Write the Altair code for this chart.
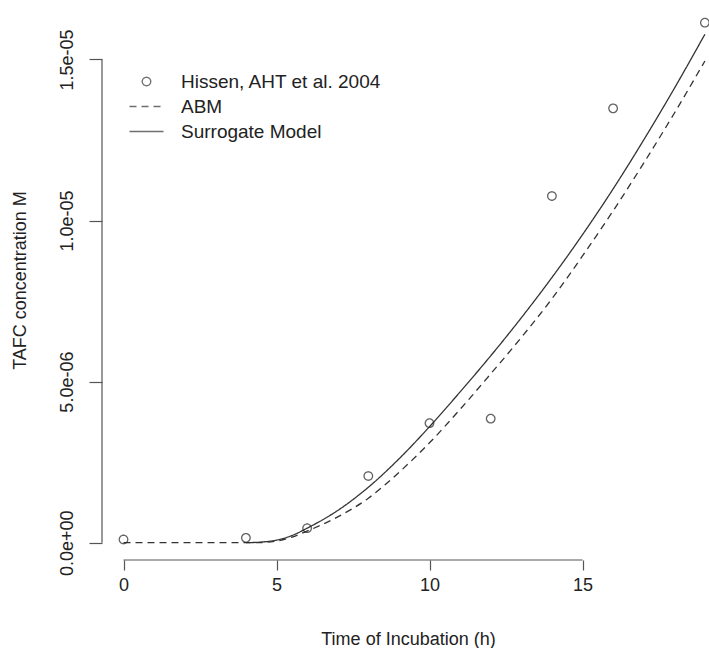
import altair as alt
import pandas as pd

# Observed data (Hissen, AHT et al. 2004)
obs_time = [0, 4, 6, 8, 10, 12, 14, 16, 19]
obs_conc = [1.0e-7, 1.5e-7, 4.5e-7, 2.07e-6, 3.71e-6, 3.85e-6, 1.076e-5, 1.348e-5, 1.614e-5]

# ABM (dashed)
abm_time = [0, 1, 2, 3, 4, 4.5, 5, 5.5, 6, 7, 8, 9, 10, 11, 12, 13, 14, 15, 16, 17, 18, 19]
abm_conc = [0, 0, 0, 0, 0, 0.005e-6, 0.05e-6, 0.17e-6, 0.36e-6, 0.8e-6, 1.38e-6, 2.18e-6,
            3.1e-6, 4.14e-6, 5.24e-6, 6.37e-6, 7.57e-6, 8.9e-6, 10.3e-6, 11.78e-6, 13.33e-6, 14.95e-6]

# Surrogate model (solid)
sur_time = [4, 4.5, 5, 5.5, 6, 7, 8, 9, 10, 11, 12, 13, 14, 15, 16, 17, 18, 19]
sur_conc = [0, 0.02e-6, 0.08e-6, 0.22e-6, 0.45e-6, 1.0e-6, 1.72e-6, 2.6e-6, 3.6e-6, 4.68e-6,
            5.8e-6, 6.98e-6, 8.23e-6, 9.56e-6, 10.98e-6, 12.5e-6, 14.1e-6, 15.78e-6]

series_names = ["Hissen, AHT et al. 2004", "ABM", "Surrogate Model"]
x_ticks = [0, 5, 10, 15]
y_ticks = [0, 5e-6, 1e-5, 1.5e-5]
y_tick_labels = ["0.0e+00", "5.0e-06", "1.0e-05", "1.5e-05"]

obs_df = pd.DataFrame({"time": obs_time, "conc": obs_conc, "series": series_names[0]})
line_df = pd.concat([
    pd.DataFrame({"time": abm_time, "conc": abm_conc, "series": series_names[1]}),
    pd.DataFrame({"time": sur_time, "conc": sur_conc, "series": series_names[2]}),
], ignore_index=True)
xaxis_df = pd.DataFrame({"x": [x_ticks[0]], "x2": [x_ticks[-1]]})
yaxis_df = pd.DataFrame({"y": [y_ticks[0]], "y2": [y_ticks[-1]]})

FONT = "Liberation Sans"
TXT = "#222222"
AX = "#555555"
W, H = 607, 560

xs = alt.Scale(domain=[-0.703, 19.134], nice=False, zero=False)
ys = alt.Scale(domain=[-5.37e-7, 1.6844e-5], nice=False, zero=False)

label_list = "[" + ",".join("'%s'" % s for s in y_tick_labels) + "]"

xaxis = alt.Axis(values=x_ticks, domain=False, grid=False, tickSize=10, tickColor=AX,
                 tickWidth=1.2, labelFontSize=18, labelFont=FONT, labelColor=TXT,
                 labelPadding=6, labelFlush=False, labelOverlap=False,
                 title="Time of Incubation (h)", titleFontSize=18, titleFont=FONT,
                 titleFontWeight="normal", titleColor=TXT, titleX=306, titleY=79,
                 titleAlign="center", titleBaseline="middle")
yaxis = alt.Axis(values=y_ticks, labelExpr=label_list + "[round(datum.value/5e-6)]",
                 domain=False, grid=False, tickSize=13, tickColor=AX, tickWidth=1.2,
                 labelFontSize=18, labelFont=FONT, labelColor=TXT, labelAngle=270,
                 labelAlign="center", labelBaseline="bottom", labelPadding=13,
                 labelFlush=False, labelOverlap=False,
                 title="TAFC concentration M", titleFontSize=18, titleFont=FONT,
                 titleFontWeight="normal", titleColor=TXT, titleAngle=270,
                 titleX=-82, titleY=280, titleAlign="center", titleBaseline="middle")

X = alt.X("time:Q", scale=xs, axis=xaxis)
Y = alt.Y("conc:Q", scale=ys, axis=yaxis)

circle_path = "M -0.5,0 A 0.5,0.5 0 1,1 0.5,0 A 0.5,0.5 0 1,1 -0.5,0 Z"
line_path = "M -2,0 L 2,0"

legend = alt.Legend(orient="none", legendX=35, legendY=72, title=None, padding=0,
                    symbolSize=289, symbolStrokeColor="#333333",
                    symbolStrokeWidth=1.3, labelFontSize=19, labelFont=FONT,
                    labelColor=TXT, labelOffset=25, rowPadding=5, labelLimit=400)
dash_scale = alt.Scale(domain=series_names, range=[[1, 0], [7, 5], [1, 0]])
shape_scale = alt.Scale(domain=series_names, range=[circle_path, line_path, line_path])

lines = alt.Chart(line_df).mark_line(color="#333333", strokeWidth=1.3, interpolate="monotone").encode(
    x=X, y=Y,
    strokeDash=alt.StrokeDash("series:N", scale=dash_scale, legend=legend),
)

points = alt.Chart(obs_df).mark_point(size=289, filled=False, color="#222222", strokeWidth=1.3).encode(
    x=X, y=Y,
    shape=alt.Shape("series:N", scale=shape_scale, legend=legend),
    strokeDash=alt.StrokeDash("series:N", scale=dash_scale, legend=legend),
)

xrule = alt.Chart(xaxis_df).mark_rule(color=AX, strokeWidth=1.2).encode(
    x=alt.X("x:Q", scale=xs, axis=xaxis), x2="x2:Q", y=alt.value(H))
yrule = alt.Chart(yaxis_df).mark_rule(color=AX, strokeWidth=1.2).encode(
    y=alt.Y("y:Q", scale=ys, axis=yaxis), y2="y2:Q", x=alt.value(0))

chart = alt.layer(xrule, yrule, lines, points).properties(
    width=W, height=H,
    autosize=alt.AutoSizeParams(type="none"),
    padding={"left": 102, "top": 0, "right": 0, "bottom": 88},
    background="white",
).configure_view(stroke=None)

chart.save("out.html", embed_options={"renderer": "svg", "actions": False})
